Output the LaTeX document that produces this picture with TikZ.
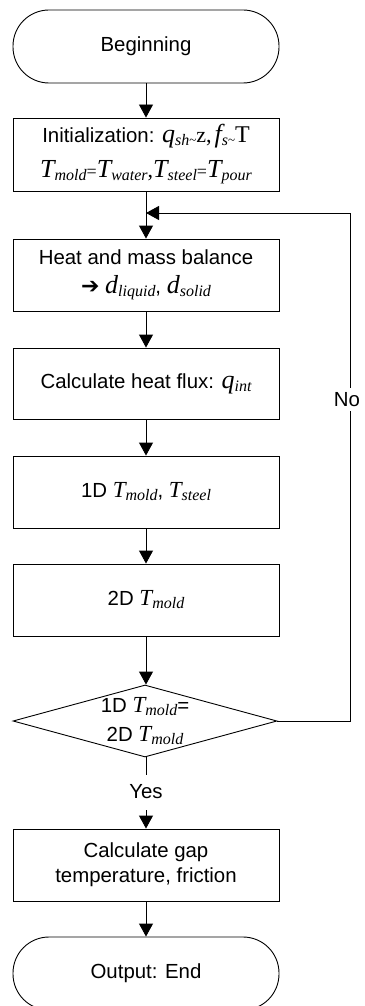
\documentclass[tikz,border=0pt]{standalone}
\usepackage{fontspec}
\setmainfont{Liberation Sans}
\newfontfamily\tnr{Liberation Serif}
\newfontfamily\dvs{DejaVu Sans}
\usetikzlibrary{shapes.geometric,arrows.meta}
\newcommand{\VB}[2]{{\tnr\itshape\fontsize{26}{26}\selectfont #1\raisebox{-3pt}{\fontsize{16}{16}\selectfont #2}}}
\newcommand{\VS}[2]{{\tnr\itshape\fontsize{23}{23}\selectfont #1\raisebox{-3pt}{\fontsize{16}{16}\selectfont #2}}}
\newcommand{\RM}[2]{{\tnr\fontsize{#1}{#1}\selectfont #2}}
\newcommand{\TL}{\raisebox{-2pt}{\tnr\fontsize{13}{13}\selectfont\textasciitilde}}
\begin{document}
\begin{tikzpicture}[x=1pt,y=-1pt,
  base/.style={draw=black,line width=0.9pt,align=center,inner sep=0pt,
    minimum width=266pt,font=\fontsize{20.4}{25}\selectfont},
  procbox/.style={base,rectangle,minimum height=72pt},
  termbox/.style={base,rectangle,rounded corners=36pt,minimum height=73pt},
  decbox/.style={draw=black,line width=0.9pt,diamond,inner sep=0pt,
    minimum width=264pt,minimum height=72pt},
  flow/.style={draw=black,line width=0.9pt,-{Triangle[width=14pt,length=13pt]}},
  lbl/.style={fill=white,inner sep=0pt,font=\fontsize{20.4}{25}\selectfont}]
\useasboundingbox (0,0) rectangle (364,1006);
\fill[white] (0,0) rectangle (364,1006);

\node[termbox] (begin) at (146,46.5) {Beginning};
\node[procbox,minimum height=73pt] (init) at (146,154.5)
  {Initialization: \VB{q}{sh}\TL\RM{22}{z,}\kern3pt\VB{f}{s}\TL\RM{24}{T}\\[10pt]
   \VB{T}{mold}\RM{18}{=}\VB{T}{water}\RM{22}{,}\VB{T}{steel}\RM{18}{=}\VB{T}{pour}};
\node[procbox] (heat) at (146,275)
  {Heat and mass balance\\[4pt]{\dvs\fontsize{22}{22}\selectfont ➔} \VB{d}{liquid}, \VB{d}{solid}};
\node[procbox,minimum height=71pt] (flux) at (146,383.5) {Calculate heat flux: \VB{q}{int}};
\node[procbox] (one) at (146,492) {1D \VS{T}{mold}, \VS{T}{steel}};
\node[procbox] (two) at (146,600) {2D \VS{T}{mold}};
\node[decbox,label={[font=\fontsize{20.4}{25}\selectfont,align=center]center:1D \VS{T}{mold}=\\[4pt]2D \VS{T}{mold}}] (dec) at (145,721) {};
\node[procbox] (gap) at (146,865) {Calculate gap\\temperature, friction};
\node[termbox] (end) at (146,973.5) {Output: End};

\coordinate (lr) at (350,721);
\coordinate (ur) at (350,213);
\coordinate (join) at (146,213);

\draw[flow] (begin) -- (init);
\draw[flow] (init) -- (heat);
\draw[flow] (heat) -- (flux);
\draw[flow] (flux) -- (one);
\draw[flow] (one) -- (two);
\draw[flow] (two) -- (dec.north -| two.south);
\draw[flow] (dec.south -| gap.north) -- node[lbl,pos=0.486,minimum height=35pt]{Yes} (gap);
\draw[flow] (dec.east) -- (lr) -- node[lbl,pos=0.632,minimum height=23pt,xshift=-3pt]{No} (ur) -- (join);
\draw[flow] (gap) -- (end);
\end{tikzpicture}
\end{document}
